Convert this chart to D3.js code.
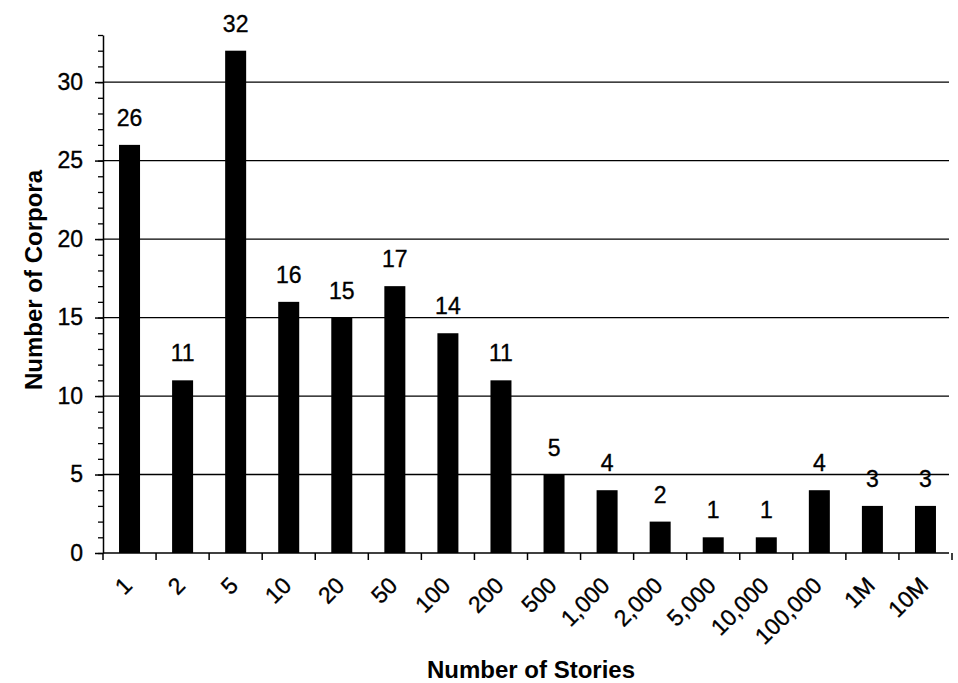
<!DOCTYPE html>
<html>
<head>
<meta charset="utf-8">
<script src="https://cdn.jsdelivr.net/npm/d3@7"></script>
<style>
  body { margin: 0; background: #fff; }
  text { font-family: "Liberation Sans", Arial, sans-serif; fill: #000; }
  .lab { stroke: #000; stroke-width: 0.35px; }
</style>
</head>
<body>
<div id="chart"></div>
<script>
var categories = ['1', '2', '5', '10', '20', '50', '100', '200', '500', '1,000', '2,000', '5,000', '10,000', '100,000', '1M', '10M'];
var corpora = [26, 11, 32, 16, 15, 17, 14, 11, 5, 4, 2, 1, 1, 4, 3, 3];
var yTicks = [0, 5, 10, 15, 20, 25, 30];

var width = 958, height = 683;
const margin = { top: 35, left: 103, bottom: 130, right: 6 };

var svg = d3.select('#chart').append('svg')
    .attr('width', width)
    .attr('height', height);

var plotW = width - margin.left - margin.right;
var plotH = height - margin.top - margin.bottom;

var g = svg.append('g').attr('transform', 'translate(' + margin.left + ',' + margin.top + ')');

//-----Y-------
var y = d3.scaleLinear().domain([0, 33]).range([plotH, 0]);

// gridlines
g.selectAll('line.grid')
    .data(yTicks.slice(1))
    .enter().append('line')
        .attr('class', 'grid')
        .attr('x1', 0).attr('x2', plotW - 3)
        .attr('y1', function(d){ return y(d) })
        .attr('y2', function(d){ return y(d) })
        .attr('stroke', '#000').attr('stroke-width', 1.3);

// minor ticks
g.append('g').call(d3.axisLeft(y).tickValues(d3.range(0, 34)).tickSize(5).tickFormat(''))
    .call(function(s){ s.select('.domain').remove() })
    .selectAll('line').attr('stroke-width', 1.3);

var yAxis = g.append('g').call(d3.axisLeft(y).tickValues(yTicks).tickSize(8).tickPadding(12).tickSizeOuter(0));
yAxis.selectAll('text').attr('class', 'lab').style('font-size', '23px');
yAxis.selectAll('line').attr('stroke-width', 1.5);
yAxis.select('.domain').attr('stroke-width', 1.5);

//-----X-------
var bandW = plotW / categories.length;

g.append('g').attr('transform', 'translate(0,' + plotH + ')')
    .selectAll('line')
    .data(d3.range(0, categories.length + 1))
    .enter().append('line')
        .attr('x1', function(i){ return i * bandW })
        .attr('x2', function(i){ return i * bandW })
        .attr('y1', 0).attr('y2', 7)
        .attr('stroke', '#000').attr('stroke-width', 1.5);

g.append('line')
    .attr('x1', 0).attr('x2', plotW - 3)
    .attr('y1', plotH).attr('y2', plotH)
    .attr('stroke', '#000').attr('stroke-width', 1.5);

g.selectAll('text.xlab')
    .data(categories)
    .enter().append('text')
        .attr('class', 'xlab lab')
        .attr('text-anchor', 'end')
        .style('font-size', '23px')
        .attr('transform', function(d, i){
            var cx = i * bandW + bandW / 2 + 4;
            return 'translate(' + cx + ',' + (plotH + 34) + ') rotate(-45)';
        })
        .text(function(d){ return d });

//-----Bars-------
g.selectAll('rect')
    .data(corpora)
    .enter().append('rect')
        .attr('x', function(d, i){ return i * bandW + bandW / 2 - 10.5 })
        .attr('width', 21)
        .attr('y', function(d){ return y(d) })
        .attr('height', function(d){ return plotH - y(d) })
        .attr('fill', '#000');

g.selectAll('text.val')
    .data(corpora)
    .enter().append('text')
        .attr('class', 'val lab')
        .attr('text-anchor', 'middle')
        .style('font-size', '23px')
        .attr('x', function(d, i){ return i * bandW + bandW / 2 })
        .attr('y', function(d){ return y(d) - 19 })
        .text(function(d){ return d });

//-----Titles-------
svg.append('text')
    .attr('text-anchor', 'middle')
    .style('font-size', '24px').style('font-weight', 'bold')
    .attr('transform', 'translate(42,280) rotate(-90)')
    .text('Number of Corpora');

svg.append('text')
    .attr('text-anchor', 'middle')
    .style('font-size', '24px').style('font-weight', 'bold')
    .attr('x', 531).attr('y', 678)
    .text('Number of Stories');
</script>
</body>
</html>
